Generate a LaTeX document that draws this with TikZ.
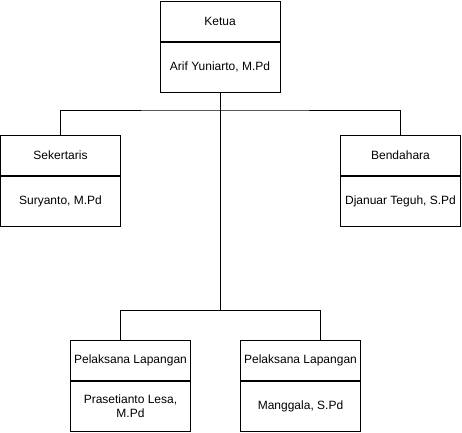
\documentclass[tikz,border=0pt]{standalone}
\usepackage{fontspec}
\setmainfont{Liberation Sans}
\begin{document}
\begin{tikzpicture}[x=1pt,y=-1pt,
  cellhead/.style={draw=black,line width=1pt,fill=white,minimum width=120pt,minimum height=40pt,inner sep=0pt,
    font=\fontsize{12}{14}\selectfont,text=black,anchor=north},
  cellbody/.style={draw=black,line width=1pt,fill=white,minimum width=120pt,minimum height=50pt,inner sep=0pt,
    font=\fontsize{12}{14}\selectfont,text=black,anchor=north,align=center},
  conn/.style={draw=black,line width=1pt}]
\useasboundingbox (0,0) rectangle (462,432);
% boxes
\node[cellhead] (kh) at (220,0.5) {Ketua};
\node[cellbody] (kb) at (kh.south) {Arif Yuniarto, M.Pd};
\node[cellhead] (sh) at (60.5,135) {Sekertaris};
\node[cellbody] (sb) at (sh.south) {Suryanto, M.Pd};
\node[cellhead] (bh) at (400.5,135) {Bendahara};
\node[cellbody] (bb) at (bh.south) {Djanuar Teguh, S.Pd};
\node[cellhead] (p1h) at (130.5,340) {Pelaksana Lapangan};
\node[cellbody] (p1b) at (p1h.south) {Prasetianto Lesa,\\M.Pd};
\node[cellhead] (p2h) at (300.5,340) {Pelaksana Lapangan};
\node[cellbody] (p2b) at (p2h.south) {Manggala, S.Pd};
% junctions
\coordinate (j1) at (220,110);
\coordinate (j2) at (220,310);
\coordinate (p1t) at (120.5,340);
\coordinate (p2t) at (320.5,340);
% connectors
\draw[conn] (kb.south) -- (j2);
\draw[conn] (sh.north) |- (j1) -| (bh.north);
\draw[conn] (p1t) |- (j2) -| (p2t);
\end{tikzpicture}
\end{document}
